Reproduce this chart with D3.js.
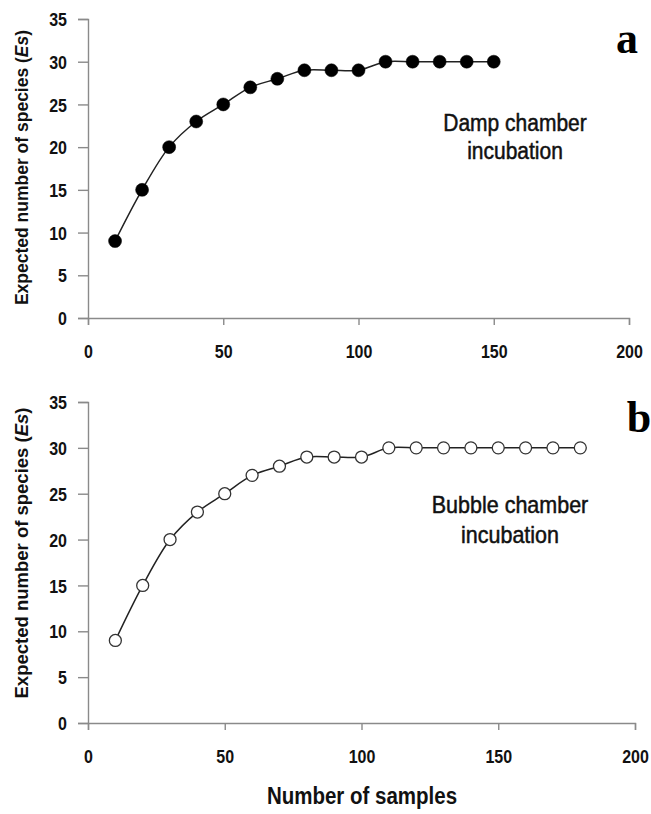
<!DOCTYPE html>
<html><head><meta charset="utf-8">
<script src="https://cdn.jsdelivr.net/npm/d3@7"></script>
<style>
body{margin:0;background:#fff;}
text{font-family:"Liberation Sans",Arial,sans-serif;}
</style></head>
<body><svg id="c" width="651" height="814"></svg>
<script>
const samplesA = [10,20,30,40,50,60,70,80,90,100,110,120,130,140,150];
const speciesA = [9,15,20,23,25,27,28,29,29,29,30,30,30,30,30];
const samplesB = [10,20,30,40,50,60,70,80,90,100,110,120,130,140,150,160,170,180];
const speciesB = [9,15,20,23,25,27,28,29,29,29,30,30,30,30,30,30,30,30];
const xTicks = [0,50,100,150,200];
const yTicks = [0,5,10,15,20,25,30,35];

const svg = d3.select("#c");
const SY = 1.17;

function stretchedText(parent, x, y, opts){
  const g = parent.append("g").attr("transform",`translate(${x},${y}) scale(${opts.sx||1},${opts.sy||1})`);
  const t = g.append("text").attr("text-anchor",opts.anchor||"middle")
    .attr("font-size",opts.size).attr("font-weight",opts.weight||"normal").attr("fill",opts.fill||"#111");
  if(opts.stroke) t.attr("stroke",opts.fill||"#111").attr("stroke-width",opts.stroke);
  if(opts.family) t.style("font-family",opts.family);
  return t;
}

function panel(cfg){
  const g = svg.append("g");
  const x = d3.scaleLinear().domain([0,200]).range([cfg.x0, cfg.x1]);
  const y = d3.scaleLinear().domain([0,35]).range([cfg.y0, cfg.y1]);
  const axisColor = "#8a8a8a";
  const xa = g.append("g").attr("transform",`translate(0,${cfg.y0})`)
    .call(d3.axisBottom(x).tickValues(xTicks).tickSize(7));
  const ya = g.append("g").attr("transform",`translate(${cfg.x0},0)`)
    .call(d3.axisLeft(y).tickValues(yTicks).tickSize(10));
  [xa,ya].forEach(a=>{
    a.select(".domain").attr("stroke",axisColor).attr("stroke-width",1.4);
    a.selectAll(".tick line").attr("stroke",axisColor).attr("stroke-width",1.4);
    a.selectAll(".tick text").attr("fill","#111").attr("font-size",16).attr("font-weight","bold")
      .attr("y",null).attr("dy",null);
  });
  xa.selectAll(".tick text").attr("transform",`translate(0,40) scale(1,${SY})`);
  ya.selectAll(".tick text").attr("x",-21).attr("transform",`translate(0,6.7) scale(1,${SY})`);

  const data = cfg.xs.map((v,i)=>({x:v,y:cfg.ys[i]}));
  g.append("path").datum(data)
    .attr("fill","none").attr("stroke","#222").attr("stroke-width",1.5)
    .attr("d", d3.line().x(d=>x(d.x)).y(d=>y(d.y)).curve(d3.curveCatmullRom.alpha(0.5)));
  g.selectAll("circle.pt").data(data).join("circle")
    .attr("cx",d=>x(d.x)).attr("cy",d=>y(d.y)).attr("r",cfg.filled?6.5:6)
    .attr("fill",cfg.filled?"#000":"#fff")
    .attr("stroke",cfg.filled?"#000":"#333").attr("stroke-width",cfg.filled?0.5:1.3);

  const yl = g.append("text")
    .attr("transform",`translate(28,${cfg.ylCenter}) rotate(-90)`)
    .attr("text-anchor","middle").attr("font-size",cfg.ylSize).attr("font-weight","bold").attr("fill","#111");
  yl.append("tspan").text("Expected number of species (");
  yl.append("tspan").attr("font-style","italic").text("Es");
  yl.append("tspan").text(")");

  cfg.note.forEach((t,i)=>{
    stretchedText(g, cfg.noteX, cfg.noteY + i*cfg.noteGap, {size:cfg.noteSize, sy:1.1, stroke:0.45}).text(t);
  });
  stretchedText(g, cfg.letterX, cfg.letterY, {size:44, weight:"bold", fill:"#000",
    family:'"Liberation Serif","Times New Roman",serif'}).text(cfg.letter);
}

panel({x0:88,x1:629,y0:318,y1:19,xs:samplesA,ys:speciesA,filled:true,
  ylCenter:167.5, ylSize:17.5,
  note:["Damp chamber","incubation"],noteX:515,noteY:131,noteGap:28,noteSize:21,
  letter:"a",letterX:627,letterY:53});
panel({x0:88,x1:635,y0:723,y1:402,xs:samplesB,ys:speciesB,filled:false,
  ylCenter:553, ylSize:18.5,
  note:["Bubble chamber","incubation"],noteX:510,noteY:513,noteGap:30,noteSize:21.5,
  letter:"b",letterX:639,letterY:432});

stretchedText(svg, 362, 804, {size:20.5, weight:"bold", sy:1.15}).text("Number of samples");
</script></body></html>
